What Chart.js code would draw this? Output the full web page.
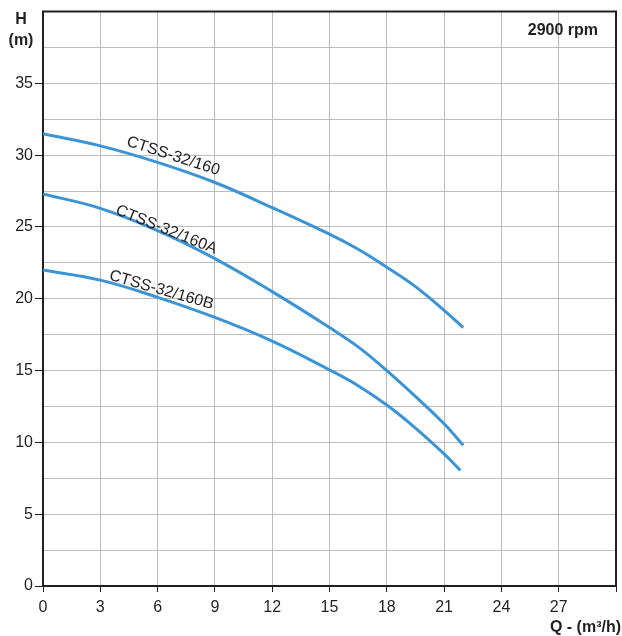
<!DOCTYPE html>
<html>
<head>
<meta charset="utf-8">
<script src="https://cdn.jsdelivr.net/npm/chart.js@4"></script>
<style>
  body { margin: 0; background: #fff; }
  .wrap { width: 622px; height: 636px; position: relative; }
</style>
</head>
<body>
<div class="wrap"><canvas id="pumpChart"></canvas></div>
<script>
  "use strict";

  const flow = [0, 3, 6, 9, 12, 15, 16.5, 18, 19.5, 21, 22];
  const flowB = [0, 3, 6, 9, 12, 15, 16.5, 18, 19.5, 21, 21.85];
  const head160 = [31.5, 30.65, 29.5, 28.1, 26.35, 24.5, 23.45, 22.2, 20.85, 19.2, 18.0];
  const head160A = [27.3, 26.3, 24.75, 22.8, 20.5, 18.0, 16.65, 15.0, 13.2, 11.3, 9.8];
  const head160B = [22.0, 21.3, 20.1, 18.7, 17.05, 15.05, 13.95, 12.6, 11.0, 9.2, 8.05];
  const seriesNames = ["CTSS-32/160", "CTSS-32/160A", "CTSS-32/160B"];
  const xTicks = [0, 3, 6, 9, 12, 15, 18, 21, 24, 27];
  const yTicks = [0, 5, 10, 15, 20, 25, 30, 35];

  const BLUE = "#3a94d6";
  const DARK = "#231f20";
  const GRID = "#bcbcbc";
  const FONT = "'Liberation Sans', Arial, Helvetica, sans-serif";

  function points(xs, ys) {
    return xs.map((x, i) => ({ x: x, y: ys[i] }));
  }

  function curve(label, data) {
    return {
      label: label,
      data: data,
      borderColor: BLUE,
      borderWidth: 3,
      pointRadius: 0,
      fill: false,
      tension: 0.4,
    };
  }

  // curve captions + axis titles + top/right frame
  const decorations = {
    id: "decorations",
    afterDraw: (chart) => {
      const { ctx, chartArea: { top, right }, scales: { x, y } } = chart;

      ctx.save();
      ctx.strokeStyle = DARK;
      ctx.lineWidth = 2;
      ctx.beginPath();
      ctx.moveTo(x.left - 1, top);
      ctx.lineTo(right, top);
      ctx.lineTo(right, y.bottom);
      ctx.stroke();

      const captions = [
        [seriesNames[0], 6.82, 29.93, 18],
        [seriesNames[1], 6.46, 24.8, 22],
        [seriesNames[2], 6.2, 20.6, 16],
      ];
      ctx.fillStyle = DARK;
      ctx.font = "16px " + FONT;
      ctx.textAlign = "center";
      ctx.textBaseline = "middle";
      captions.forEach(([text, qx, hy, deg]) => {
        ctx.save();
        ctx.translate(x.getPixelForValue(qx), y.getPixelForValue(hy));
        ctx.rotate((deg * Math.PI) / 180);
        ctx.fillText(text, 0, 0);
        ctx.restore();
      });

      ctx.font = "bold 16px " + FONT;
      ctx.textBaseline = "alphabetic";
      ctx.fillText("H", 21, 24);
      ctx.fillText("(m)", 21, 45);
      ctx.textAlign = "right";
      ctx.fillText("2900 rpm", 598, 35);
      ctx.fillText("Q - (m³/h)", 621, 632);
      ctx.restore();
    },
  };

  new Chart(document.getElementById("pumpChart"), {
    type: "line",
    data: {
      datasets: [
        curve(seriesNames[0], points(flow, head160)),
        curve(seriesNames[1], points(flow, head160A)),
        curve(seriesNames[2], points(flowB, head160B)),
      ],
    },
    options: {
      responsive: true,
      maintainAspectRatio: false,
      animation: false,
      layout: { padding: { top: 10, right: 3, left: 0, bottom: 0 } },
      plugins: {
        legend: { display: false },
        tooltip: { enabled: false },
      },
      scales: {
        x: {
          type: "linear",
          min: 0,
          max: 30,
          border: { color: DARK, width: 2 },
          grid: {
            color: GRID,
            lineWidth: 1,
            tickLength: 6,
            tickColor: DARK,
          },
          ticks: {
            stepSize: 3,
            padding: 6,
            color: DARK,
            font: { family: FONT, size: 16 },
            callback: (v) => (xTicks.includes(v) ? v : ""),
          },
          afterFit: (scale) => {
            scale.height = 50;
          },
        },
        y: {
          min: 0,
          max: 40,
          border: { color: DARK, width: 2 },
          grid: {
            color: GRID,
            lineWidth: 1,
            tickLength: 8,
            tickColor: (c) => (c.tick && yTicks.includes(c.tick.value) ? DARK : "rgba(0,0,0,0)"),
          },
          ticks: {
            stepSize: 2.5,
            padding: 2,
            color: DARK,
            font: { family: FONT, size: 16 },
            callback: (v) => (yTicks.includes(v) ? v : ""),
          },
          afterFit: (scale) => {
            scale.width = 43;
          },
        },
      },
    },
    plugins: [decorations],
  });
</script>
</body>
</html>
